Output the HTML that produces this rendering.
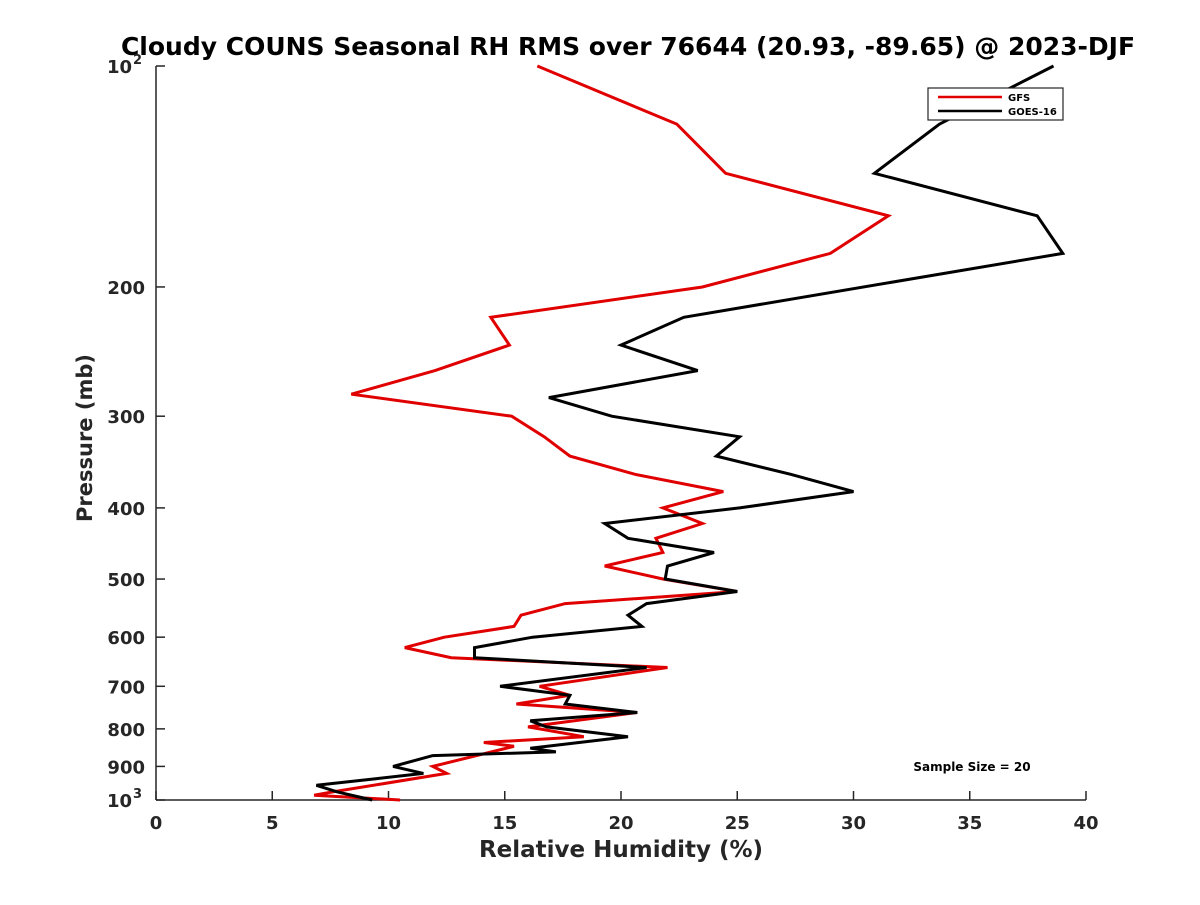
<!DOCTYPE html>
<html><head><meta charset="utf-8"><style>
body{margin:0;background:#fff}
svg text{font-family:"DejaVu Sans","Liberation Sans",sans-serif;font-weight:bold;fill:#262626}
</style></head><body>
<svg id="chart" width="1200" height="900" xmlns="http://www.w3.org/2000/svg">
<rect width="1200" height="900" fill="#fff"/>
<text x="628" y="55" font-size="25" text-anchor="middle" style="fill:#000">Cloudy COUNS Seasonal RH RMS over 76644 (20.93, -89.65) @ 2023-DJF</text>
<g id="axes"></g>
<g id="series"></g>
<text x="621" y="857" font-size="23" text-anchor="middle">Relative Humidity (%)</text>
<text transform="translate(92,438) rotate(-90)" font-size="21" text-anchor="middle">Pressure (mb)</text>
<g>
<rect x="928" y="88" width="135" height="32" fill="#fff" stroke="#262626" stroke-width="1.2"/>
<line x1="938" y1="97" x2="1002" y2="97" stroke="#e00000" stroke-width="2.5"/>
<text x="1008" y="101" font-size="10" style="fill:#000">GFS</text>
<line x1="938" y1="111" x2="1002" y2="111" stroke="#000" stroke-width="2.5"/>
<text x="1008" y="115" font-size="10" style="fill:#000">GOES-16</text>
</g>
<text x="972" y="771" font-size="12" text-anchor="middle" style="fill:#000">Sample Size = 20</text>
</svg>
<script>
const xTicks=[0,5,10,15,20,25,30,35,40];
const yTicks=[100,200,300,400,500,600,700,800,900,1000];
const gfsP=[100,120,140,160,180,200,220,240,260,280,300,320,340,360,380,400,420,440,460,480,500,520,540,560,580,600,620,640,660,700,720,740,760,795,800,820,835,845,900,920,975,985,1000];
const gfsRH=[16.4,22.4,24.5,31.5,29.0,23.5,14.4,15.2,12.0,8.4,15.3,16.7,17.8,20.6,24.4,21.8,23.5,21.5,21.8,19.3,21.8,25.0,17.6,15.7,15.4,12.4,10.7,12.7,22.0,16.5,17.8,15.5,20.7,16.0,16.5,18.4,14.1,15.4,11.9,12.5,7.6,6.8,10.5];
const goesP=[100,120,140,160,180,220,240,260,283,300,320,340,360,380,400,420,440,460,480,500,520,540,560,580,600,620,640,660,700,720,740,760,780,795,820,850,860,870,900,920,935,955,975,1000];
const goesRH=[38.6,33.7,30.9,37.9,39.0,22.7,20.0,23.3,16.9,19.6,25.1,24.1,27.3,30.0,25.1,19.3,20.3,24.0,22.0,21.9,25.0,21.1,20.3,20.9,16.2,13.7,13.7,21.1,14.8,17.8,17.6,20.7,16.1,16.8,20.3,16.1,17.2,11.9,10.2,11.5,9.5,6.9,7.8,9.3];
const X0=156,X1=1086,Y0=66,Y1=800;
const xs=v=>X0+(v-0)/40*(X1-X0);
const ys=p=>Y0+(Math.log10(p)-2)*(Y1-Y0);
const NS='http://www.w3.org/2000/svg';
const ax=document.getElementById('axes'),sg=document.getElementById('series');
function mk(tag,at,par){const e=document.createElementNS(NS,tag);for(const k in at)e.setAttribute(k,at[k]);par.appendChild(e);return e;}
const xl=mk('line',{x1:X0,y1:Y1,x2:X1,y2:Y1,stroke:'#262626','stroke-width':1.5},ax);


const yl=mk('line',{x1:X0,y1:Y0,x2:X0,y2:Y1,stroke:'#262626','stroke-width':1.5},ax);


xTicks.forEach(t=>{
 mk('line',{x1:xs(t),y1:Y1,x2:xs(t),y2:Y1-9,stroke:'#262626','stroke-width':1.5},ax);
 const tx=mk('text',{x:xs(t),y:Y1+29,'font-size':18,'text-anchor':'middle'},ax);
 tx.textContent=t;
 
 
});
yTicks.forEach(t=>{
 const y=ys(t);
 mk('line',{x1:X0,y1:y,x2:X0+9,y2:y,stroke:'#262626','stroke-width':1.5},ax);
 const tx=mk('text',{x:X0-11,y:y+7,'font-size':18,'text-anchor':'end'},ax);
 
 
 if(t===100||t===1000){
  tx.setAttribute('x',X0-24);
  tx.textContent='10';
  const s=mk('text',{x:X0-23,y:y-2,'font-size':13},ax);
  s.textContent=t===100?'2':'3';
  
  
 } else tx.textContent=t;
});
function line(P,V,color,name){
 const pts=P.map((p,i)=>xs(V[i]).toFixed(1)+','+ys(p).toFixed(1)).join(' ');
 const pl=mk('polyline',{points:pts,fill:'none',stroke:color,'stroke-width':3,'stroke-linejoin':'miter'},sg);
 
 
}
line(gfsP,gfsRH,'#e00000','gfs-line');
line(goesP,goesRH,'#000','goes16-line');
</script>
</body></html>
